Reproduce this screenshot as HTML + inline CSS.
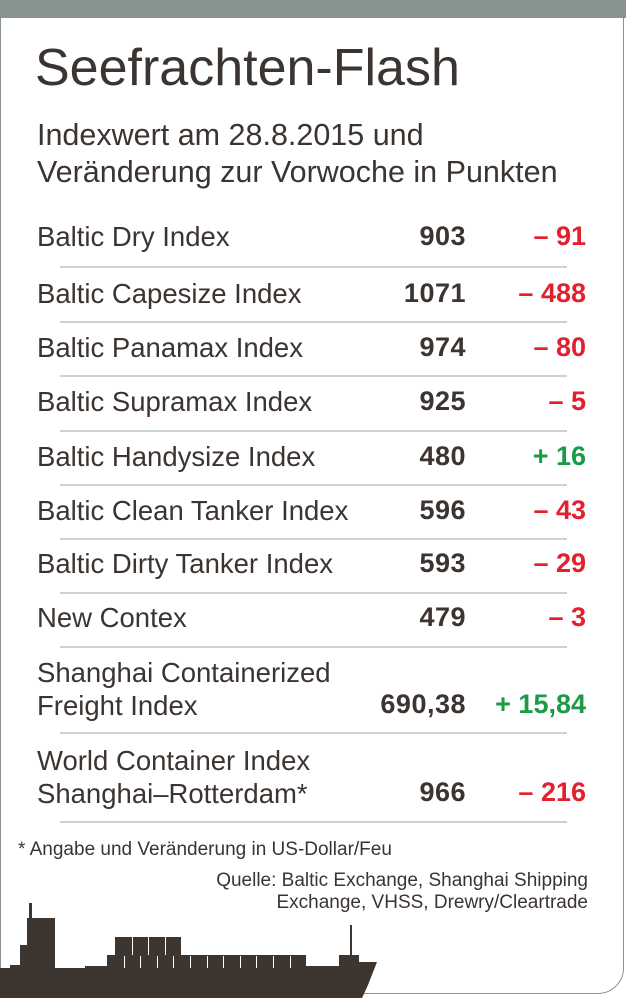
<!DOCTYPE html>
<html><head><meta charset="utf-8"><style>
*{margin:0;padding:0}
body{width:626px;height:998px;background:#fff;position:relative;overflow:hidden;font-family:"Liberation Sans",sans-serif;color:#3b3430}
.bar{position:absolute;left:0;top:0;width:626px;height:18px;background:#879491}
.frame{position:absolute;left:0;top:18px;width:622px;height:975px;border:1px solid #879491;border-top:none;border-bottom-right-radius:26px;box-sizing:content-box}
.t{position:absolute;white-space:nowrap}
.l{left:37px;font-size:27.5px}
.v{right:160px;font-size:27px;font-weight:bold;text-align:right;letter-spacing:0.5px}
.c{right:40px;font-size:27px;font-weight:bold;text-align:right}
.r{color:#e3202e}.g{color:#1c9a48}
.sep{position:absolute;left:60px;width:507px;height:2px;background:#c8d3d3}
</style></head><body>
<div class="bar"></div><div class="frame"></div>
<div class="t" style="left:35px;top:38px;font-size:52px">Seefrachten-Flash</div>
<div class="t" style="left:37px;top:117px;font-size:30.5px;line-height:37px">Indexwert am 28.8.2015 und<br>Veränderung zur Vorwoche in Punkten</div>

<div class="t l" style="top:221px">Baltic Dry Index</div><div class="t v" style="top:221px">903</div><div class="t c r" style="top:221px">– 91</div>
<div class="sep" style="top:266px"></div>
<div class="t l" style="top:278px">Baltic Capesize Index</div><div class="t v" style="top:278px">1071</div><div class="t c r" style="top:278px">– 488</div>
<div class="sep" style="top:321px"></div>
<div class="t l" style="top:332px">Baltic Panamax Index</div><div class="t v" style="top:332px">974</div><div class="t c r" style="top:332px">– 80</div>
<div class="sep" style="top:375px"></div>
<div class="t l" style="top:386px">Baltic Supramax Index</div><div class="t v" style="top:386px">925</div><div class="t c r" style="top:386px">– 5</div>
<div class="sep" style="top:430px"></div>
<div class="t l" style="top:441px">Baltic Handysize Index</div><div class="t v" style="top:441px">480</div><div class="t c g" style="top:441px">+ 16</div>
<div class="sep" style="top:484px"></div>
<div class="t l" style="top:495px">Baltic Clean Tanker Index</div><div class="t v" style="top:495px">596</div><div class="t c r" style="top:495px">– 43</div>
<div class="sep" style="top:538px"></div>
<div class="t l" style="top:548px">Baltic Dirty Tanker Index</div><div class="t v" style="top:548px">593</div><div class="t c r" style="top:548px">– 29</div>
<div class="sep" style="top:592px"></div>
<div class="t l" style="top:602px">New Contex</div><div class="t v" style="top:602px">479</div><div class="t c r" style="top:602px">– 3</div>
<div class="sep" style="top:646px"></div>
<div class="t l" style="top:656px;line-height:33px">Shanghai Containerized<br>Freight Index</div><div class="t v" style="top:689px">690,38</div><div class="t c g" style="top:689px">+ 15,84</div>
<div class="sep" style="top:732px"></div>
<div class="t l" style="top:744px;line-height:33px">World Container Index<br>Shanghai–Rotterdam*</div><div class="t v" style="top:777px">966</div><div class="t c r" style="top:777px">– 216</div>
<div class="sep" style="top:821px"></div>

<div class="t" style="left:18px;top:839px;font-size:19px">* Angabe und Veränderung in US-Dollar/Feu</div>
<div class="t" style="right:38px;top:870px;font-size:19px;text-align:right;line-height:22px">Quelle: Baltic Exchange, Shanghai Shipping<br>Exchange, VHSS, Drewry/Cleartrade</div>

<svg style="position:absolute;left:0;top:0" width="626" height="998">
<g fill="#3d3530">
<rect x="29" y="903" width="3" height="18"/>
<rect x="27" y="918" width="28" height="80"/>
<rect x="20" y="945" width="10" height="53"/>
<rect x="10" y="965" width="12" height="33"/>
<rect x="0" y="970" width="12" height="28"/>
<rect x="115" y="937" width="66" height="20"/>
<rect x="107" y="955" width="199" height="15"/>
<rect x="350" y="925" width="2" height="32"/>
<rect x="339" y="955" width="20" height="15"/>
<polygon points="55,968 85,968 85,966 358,966 358,962 377,962 368,985 362,998 0,998 0,968"/>
</g>
<g fill="#fff">
<rect x="132" y="937" width="1" height="18"/><rect x="148" y="937" width="1" height="18"/><rect x="165" y="937" width="1" height="18"/>
<rect x="124" y="956" width="1" height="12"/><rect x="140" y="956" width="1" height="12"/><rect x="157" y="956" width="1" height="12"/><rect x="173" y="956" width="1" height="12"/><rect x="190" y="956" width="1" height="12"/><rect x="207" y="956" width="1" height="12"/><rect x="223" y="956" width="1" height="12"/><rect x="240" y="956" width="1" height="12"/><rect x="256" y="956" width="1" height="12"/><rect x="273" y="956" width="1" height="12"/><rect x="290" y="956" width="1" height="12"/>
</g>
</svg>
</body></html>
